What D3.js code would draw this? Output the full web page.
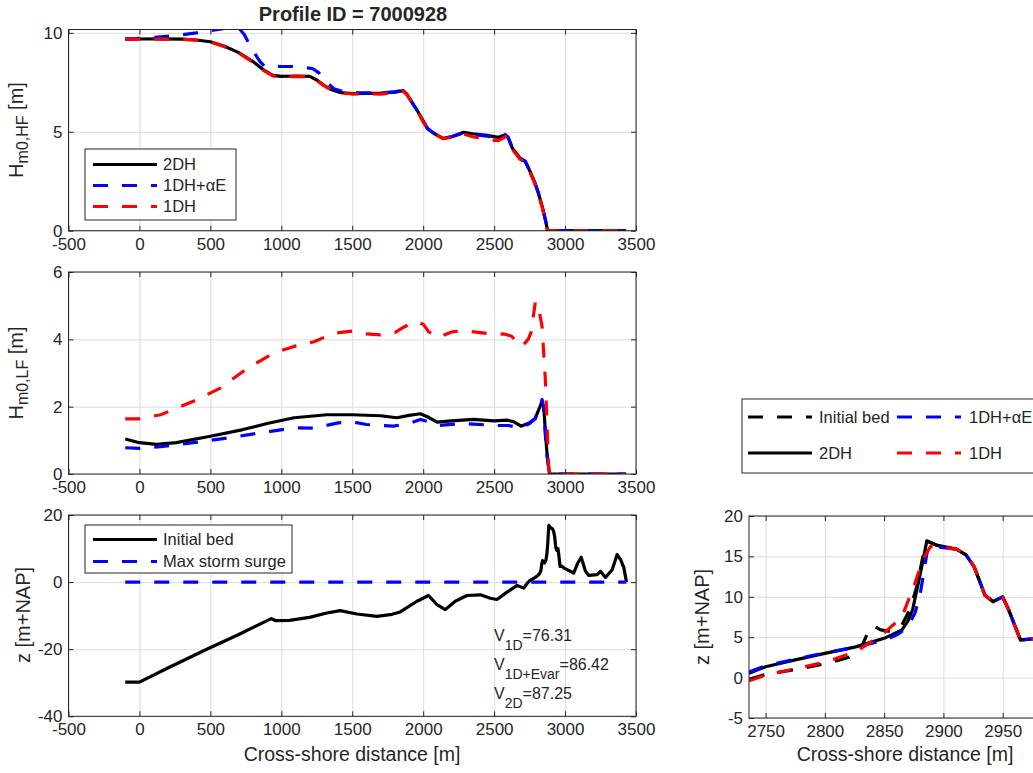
<!DOCTYPE html>
<html><head><meta charset="utf-8">
<script src="https://cdn.jsdelivr.net/npm/d3@7"></script>
<style>
body{margin:0;background:#fff}
svg{display:block}
text{font-family:"Liberation Sans",Arial,Helvetica,sans-serif;fill:#262626}
</style>
</head><body>
<svg id="c" width="1033" height="773"></svg>
<script>
// ---------------- data ----------------
const xTicksMain = [-500,0,500,1000,1500,2000,2500,3000,3500];
const yTicksHF = [0,5,10];
const yTicksLF = [0,2,4,6];
const yTicksZ = [-40,-20,0,20];
const xTicksZoom = [2750,2800,2850,2900,2950];
const yTicksZoom = [-5,0,5,10,15,20];

const seriesNames = ["2DH","1DH+\u03B1E","1DH"];

// Hm0,HF  [x, Hm0]
const hf2DH = [[-100,9.68],[0,9.69],[150,9.70],[300,9.68],[400,9.64],[500,9.55],[600,9.32],[700,9.0],[800,8.55],[880,8.1],[940,7.85],[1000,7.8],[1100,7.82],[1200,7.8],[1250,7.62],[1300,7.35],[1350,7.14],[1420,6.98],[1500,6.93],[1600,6.94],[1700,6.95],[1800,7.0],[1860,7.08],[1885,6.9],[1920,6.5],[1960,6.05],[2000,5.55],[2030,5.17],[2080,4.9],[2140,4.67],[2200,4.75],[2285,4.97],[2350,4.9],[2450,4.82],[2530,4.72],[2580,4.85],[2600,4.7],[2630,4.15],[2685,3.65],[2720,3.5],[2750,3.05],[2780,2.56],[2810,1.95],[2840,1.2],[2862,0.54],[2877,0.0],[3430,0.0]];
const hf1DHaE = [[-100,9.68],[0,9.72],[150,9.8],[300,9.9],[400,10.0],[520,10.14],[620,10.25],[700,10.25],[740,9.9],[790,9.2],[850,8.55],[880,8.32],[1000,8.3],[1080,8.3],[1150,8.25],[1220,8.2],[1265,7.98],[1320,7.5],[1370,7.18],[1450,7.0],[1550,6.97],[1700,6.97],[1800,7.02],[1865,7.1],[1890,6.88],[1920,6.5],[1960,6.05],[2000,5.55],[2030,5.17],[2080,4.9],[2140,4.67],[2200,4.75],[2285,4.95],[2350,4.85],[2450,4.78],[2530,4.7],[2580,4.85],[2600,4.7],[2630,4.15],[2685,3.65],[2720,3.5],[2750,3.05],[2780,2.56],[2810,1.95],[2840,1.2],[2862,0.54],[2877,0.0],[3430,0.0]];
const hf1DH = [[-100,9.68],[0,9.68],[150,9.69],[300,9.67],[400,9.63],[500,9.54],[600,9.3],[700,8.98],[800,8.52],[880,8.08],[940,7.83],[1000,7.78],[1100,7.8],[1200,7.78],[1250,7.6],[1300,7.33],[1350,7.12],[1420,6.96],[1500,6.91],[1600,6.92],[1700,6.9],[1800,6.98],[1860,7.05],[1885,6.88],[1920,6.48],[1960,6.03],[2000,5.5],[2030,5.14],[2080,4.88],[2140,4.65],[2200,4.72],[2285,4.88],[2350,4.75],[2450,4.6],[2530,4.55],[2580,4.75],[2600,4.62],[2630,4.1],[2685,3.6],[2720,3.45],[2750,3.0],[2780,2.5],[2810,1.9],[2840,1.15],[2862,0.5],[2877,0.0],[3430,0.0]];

// Hm0,LF
const lf2DH = [[-100,1.04],[0,0.93],[120,0.88],[260,0.93],[500,1.12],[730,1.32],[900,1.5],[1090,1.67],[1320,1.76],[1500,1.76],[1700,1.73],[1815,1.67],[1900,1.74],[1980,1.79],[2030,1.7],[2097,1.54],[2200,1.58],[2355,1.62],[2500,1.58],[2591,1.6],[2640,1.55],[2690,1.42],[2750,1.52],[2790,1.65],[2833,2.11],[2850,2.0],[2862,1.2],[2873,0.6],[2890,0.0],[3430,0.0]];
const lf1DHaE = [[-100,0.78],[0,0.76],[150,0.81],[380,0.93],[620,1.07],[850,1.22],[1090,1.37],[1230,1.36],[1400,1.52],[1510,1.54],[1600,1.47],[1790,1.42],[1900,1.5],[1980,1.62],[2040,1.55],[2100,1.44],[2285,1.5],[2520,1.44],[2600,1.44],[2685,1.37],[2750,1.5],[2790,1.65],[2838,2.21],[2850,1.9],[2862,1.12],[2873,0.53],[2890,0.0],[3430,0.0]];
const lf1DH = [[-100,1.64],[0,1.64],[150,1.76],[380,2.16],[570,2.55],[760,3.14],[945,3.59],[1090,3.79],[1230,3.93],[1370,4.18],[1450,4.22],[1510,4.25],[1600,4.16],[1700,4.13],[1800,4.2],[1862,4.36],[1944,4.53],[2000,4.45],[2038,4.23],[2108,4.06],[2200,4.22],[2285,4.26],[2400,4.2],[2500,4.15],[2567,4.16],[2620,4.1],[2697,3.79],[2740,4.0],[2760,4.2],[2791,5.12],[2814,4.92],[2838,4.38],[2861,2.8],[2885,0.14],[2897,0.0],[3430,0.0]];

// bed profile z [m+NAP]
const initialBed = [[-100,-29.8],[0,-29.8],[200,-25.6],[471,-20.1],[700,-15.6],[929,-10.9],[963,-11.5],[1057,-11.4],[1198,-10.5],[1321,-9.2],[1415,-8.5],[1533,-9.5],[1674,-10.2],[1780,-9.6],[1838,-8.9],[1956,-5.7],[2038,-4.0],[2097,-6.7],[2156,-8.2],[2226,-5.7],[2308,-4.0],[2403,-3.8],[2473,-4.8],[2520,-5.2],[2591,-3.0],[2662,-1.0],[2709,-1.8],[2736,-0.2],[2750,0.4],[2775,1.0],[2800,1.7],[2820,2.5],[2830,3.5],[2836,5.5],[2841,6.4],[2847,5.9],[2855,5.7],[2865,6.5],[2872,8.5],[2878,11.5],[2882,14.5],[2886,16.9],[2894,16.4],[2911,15.9],[2919,15.2],[2926,13.7],[2935,10.2],[2942,9.4],[2950,10.0],[2955,8.4],[2965,4.65],[2975,4.8],[3000,4.0],[3061,2.7],[3090,5.7],[3114,7.4],[3144,3.2],[3167,2.0],[3226,2.2],[3250,3.2],[3285,1.4],[3332,3.7],[3367,8.2],[3391,6.7],[3414,4.4],[3433,0.0]];
const stormSurge = [[-100,0.0],[3433,0.0]];

// final bed profiles (zoom panel)
const z2DH = [[2736,0.55],[2750,1.35],[2775,2.2],[2800,3.0],[2826,3.8],[2850,4.86],[2865,5.9],[2870,7.0],[2874,8.4],[2880,12.5],[2886,16.9],[2894,16.4],[2911,15.9],[2919,15.2],[2926,13.7],[2935,10.2],[2942,9.4],[2950,10.0],[2955,8.4],[2965,4.65],[2975,4.8],[3000,4.0]];
const z1DHaE = [[2736,0.7],[2750,1.45],[2775,2.3],[2800,3.05],[2826,3.75],[2850,4.6],[2862,5.4],[2870,6.3],[2876,8.0],[2880,10.0],[2884,13.5],[2887,16.2],[2894,16.2],[2911,15.9],[2919,15.2],[2926,13.7],[2935,10.2],[2942,9.4],[2950,10.0],[2955,8.4],[2965,4.65],[2975,4.8],[3000,4.0]];
const z1DH = [[2736,-0.4],[2750,0.3],[2770,0.94],[2800,1.9],[2826,3.2],[2848,5.27],[2865,7.5],[2876,11.7],[2883,14.7],[2889,16.2],[2894,16.2],[2911,15.9],[2919,15.2],[2926,13.7],[2935,10.2],[2942,9.4],[2950,10.0],[2955,8.4],[2965,4.65],[2975,4.8],[3000,4.0]];

const volumes = [["1D","76.31"],["1D+Evar","86.42"],["2D","87.25"]];

// ---------------- drawing ----------------
const svg = d3.select("#c");
const BLUE="#0000ff", RED="#ff0000", BLACK="#000000";
const DASH="15,14";
let clipN=0;

function panel(o){
  const x = d3.scaleLinear().domain(o.xd).range([o.l,o.r]);
  const y = d3.scaleLinear().domain(o.yd).range([o.b,o.t]);
  const g = svg.append("g");
  const W=o.r-o.l, H=o.b-o.t;
  g.append("rect").attr("x",o.l).attr("y",o.t).attr("width",W).attr("height",H).attr("fill","#fff");
  // grid
  const gx = g.append("g").attr("transform",`translate(0,${o.b})`)
    .call(d3.axisBottom(x).tickValues(o.xt).tickSize(-H).tickFormat(""));
  const gy = g.append("g").attr("transform",`translate(${o.l},0)`)
    .call(d3.axisLeft(y).tickValues(o.yt).tickSize(-W).tickFormat(""));
  [gx,gy].forEach(a=>{a.select(".domain").remove();a.selectAll("line").attr("stroke","#dcdcdc").attr("stroke-width",1);});
  // data
  const id="clip"+(clipN++);
  svg.append("clipPath").attr("id",id).append("rect").attr("x",o.l).attr("y",o.t).attr("width",W).attr("height",H);
  const line = d3.line().x(d=>x(d[0])).y(d=>y(d[1]));
  const dg = g.append("g").attr("clip-path",`url(#${id})`);
  o.series.forEach(s=>{
    dg.append("path").datum(s.data).attr("d",line).attr("fill","none")
      .attr("stroke",s.color).attr("stroke-width",s.w||3.2)
      .attr("stroke-dasharray",s.dash?DASH:null).attr("stroke-linejoin","round");
  });
  // axes with inward ticks
  const fs = 17;
  const ax = g.append("g").attr("transform",`translate(0,${o.b})`)
    .call(d3.axisBottom(x).tickValues(o.xt).tickSize(-5).tickPadding(7).tickFormat(d3.format("d")));
  const ay = g.append("g").attr("transform",`translate(${o.l},0)`)
    .call(d3.axisLeft(y).tickValues(o.yt).tickSize(-5).tickPadding(6).tickFormat(d3.format("d")));
  const at = g.append("g").attr("transform",`translate(0,${o.t})`)
    .call(d3.axisTop(x).tickValues(o.xt).tickSize(-5).tickFormat(""));
  const ar = g.append("g").attr("transform",`translate(${o.r},0)`)
    .call(d3.axisRight(y).tickValues(o.yt).tickSize(-5).tickFormat(""));
  [ax,ay,at,ar].forEach(a=>{
    a.select(".domain").remove();
    a.selectAll("line").attr("stroke","#262626").attr("stroke-width",1);
    a.selectAll("text").attr("font-size",fs).attr("font-family","'Liberation Sans',Arial,sans-serif").attr("fill","#262626");
  });
  ax.selectAll("text").text(d=>d<0?"-"+Math.abs(d):d);
  ay.selectAll("text").text(d=>d<0?"-"+Math.abs(d):d);
  g.append("rect").attr("x",o.l).attr("y",o.t).attr("width",W).attr("height",H)
    .attr("fill","none").attr("stroke","#262626").attr("stroke-width",1);
  return {x,y,g};
}

function ylabel(cx,cy,main,sub,rest){
  const t = svg.append("text").attr("transform",`translate(${cx},${cy}) rotate(-90)`)
    .attr("text-anchor","middle").attr("font-size",20);
  t.append("tspan").text(main);
  if(sub){
    t.append("tspan").attr("font-size",16).attr("dy",5).text(sub);
    t.append("tspan").attr("dy",-5).text(rest);
  } else if(rest) t.append("tspan").text(rest);
}

function legend(x0,y0,w,h,items){
  const g = svg.append("g");
  g.append("rect").attr("x",x0).attr("y",y0).attr("width",w).attr("height",h)
    .attr("fill","#fff").attr("stroke","#262626").attr("stroke-width",1);
  items.forEach(it=>{
    g.append("line").attr("x1",it.x1).attr("x2",it.x2).attr("y1",it.y).attr("y2",it.y)
      .attr("stroke",it.color).attr("stroke-width",3.2).attr("stroke-dasharray",it.dash?DASH:null);
    g.append("text").attr("x",it.tx).attr("y",it.y).attr("dy","0.35em").attr("font-size",16.5).text(it.label);
  });
}

// Panel 1: Hm0,HF
panel({l:68.5,r:636,t:29.5,b:230.7,xd:[-500,3500],yd:[0,10.17],xt:xTicksMain,yt:yTicksHF,
  series:[{data:hf2DH,color:BLACK},{data:hf1DHaE,color:BLUE,dash:true},{data:hf1DH,color:RED,dash:true}]});
legend(85,149,151,71,[
  {x1:93,x2:157,y:164.5,color:BLACK,tx:163,label:seriesNames[0]},
  {x1:93,x2:157,y:185.5,color:BLUE,dash:true,tx:163,label:seriesNames[1]},
  {x1:93,x2:157,y:206.5,color:RED,dash:true,tx:163,label:seriesNames[2]}]);
ylabel(23,130,"H","m0,HF"," [m]");
svg.append("text").attr("x",353).attr("y",21).attr("text-anchor","middle").attr("font-size",20).attr("font-weight","bold").text("Profile ID = 7000928");

// Panel 2: Hm0,LF
panel({l:68.5,r:636,t:272,b:474,xd:[-500,3500],yd:[0,6],xt:xTicksMain,yt:yTicksLF,
  series:[{data:lf2DH,color:BLACK},{data:lf1DHaE,color:BLUE,dash:true},{data:lf1DH,color:RED,dash:true}]});
ylabel(23,373,"H","m0,LF"," [m]");

// Panel 3: bed
panel({l:68.5,r:636,t:515,b:716.3,xd:[-500,3500],yd:[-40,20],xt:xTicksMain,yt:yTicksZ,
  series:[{data:initialBed,color:BLACK},{data:stormSurge,color:BLUE,dash:true}]});
legend(85,525,207,48,[
  {x1:93,x2:157,y:539.5,color:BLACK,tx:163,label:"Initial bed"},
  {x1:93,x2:157,y:561.5,color:BLUE,dash:true,tx:163,label:"Max storm surge"}]);
ylabel(30,615,"z [m+NAP]");
svg.append("text").attr("x",352).attr("y",761).attr("text-anchor","middle").attr("font-size",19.5).text("Cross-shore distance [m]");
volumes.forEach((v,i)=>{
  const t = svg.append("text").attr("x",494).attr("y",640.5+i*29).attr("font-size",16);
  t.append("tspan").text("V");
  t.append("tspan").attr("font-size",14).attr("dy",9).text(v[0]);
  t.append("tspan").attr("dy",-9).text("="+v[1]);
});

// Panel 4: zoom
panel({l:749,r:1075,t:516,b:718,xd:[2736,3011],yd:[-5,20],xt:xTicksZoom,yt:yTicksZoom,
  series:[{data:initialBed,color:BLACK,dash:true},{data:z2DH,color:BLACK},{data:z1DHaE,color:BLUE,dash:true},{data:z1DH,color:RED,dash:true}]});
ylabel(709,617,"z [m+NAP]");
svg.append("text").attr("x",905).attr("y",761).attr("text-anchor","middle").attr("font-size",19.5).text("Cross-shore distance [m]");
legend(742,399,320,74,[
  {x1:748,x2:812,y:417,color:BLACK,dash:true,tx:819,label:"Initial bed"},
  {x1:897,x2:961,y:417,color:BLUE,dash:true,tx:969,label:seriesNames[1]},
  {x1:748,x2:812,y:453,color:BLACK,tx:819,label:seriesNames[0]},
  {x1:897,x2:961,y:453,color:RED,dash:true,tx:969,label:seriesNames[2]}]);
</script>
</body></html>
